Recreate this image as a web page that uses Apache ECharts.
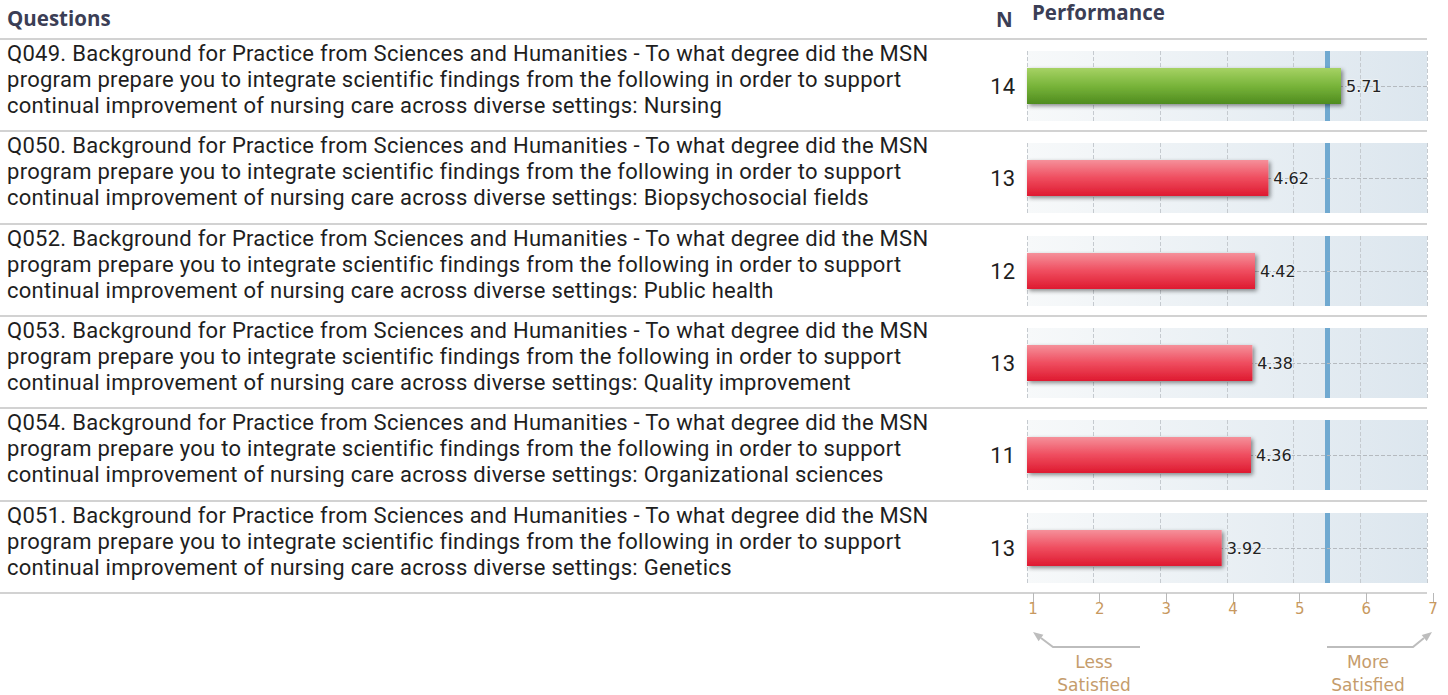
<!DOCTYPE html>
<html>
<head>
<meta charset="utf-8">
<title>Performance</title>
<script src="https://cdn.jsdelivr.net/npm/echarts@6/dist/echarts.min.js"></script>
<style>
    body {
        margin: 0;
        width: 1448px;
        height: 695px;
        position: relative;
        overflow: hidden;
        background: #fff;
        font-family: 'Open Sans', 'Noto Sans', sans-serif;
    }
    .head {
        position: absolute;
        font-weight: bold;
        font-size: 20.5px;
        color: #3b3e55;
    }
    .sep {
        position: absolute;
        left: 0;
        width: 1427px;
        height: 2px;
        background: #d2d2d2;
    }
    .q {
        position: absolute;
        left: 7px;
        font-family: Roboto, sans-serif;
        font-size: 22px;
        line-height: 26px;
        letter-spacing: 0.28px;
        color: #1e1e1e;
        white-space: nowrap;
    }
    .n {
        position: absolute;
        left: 955px;
        width: 60px;
        text-align: right;
        font-family: Roboto, sans-serif;
        font-size: 22px;
        line-height: 26px;
        color: #1e1e1e;
    }
    #perf {
        position: absolute;
        left: 1000px;
        top: 0;
        width: 448px;
        height: 695px;
    }
</style>
</head>
<body>
<div class="head" style="left: 7px; top: 4px">Questions</div>
<div class="head" style="left: 996px; top: 5px">N</div>
<div class="head" style="left: 1032px; top: -2px">Performance</div>
<div id="rows"></div>
<div id="perf"></div>

<script>
// data
const questionIds = ['Q049', 'Q050', 'Q052', 'Q053', 'Q054', 'Q051'];
const topics = ['Nursing', 'Biopsychosocial fields', 'Public health', 'Quality improvement', 'Organizational sciences', 'Genetics'];
const counts = [14, 13, 12, 13, 11, 13];
const scores = [5.71, 4.62, 4.42, 4.38, 4.36, 3.92];
const benchmark = 5.5;
const scaleMin = 1;
const scaleMax = 7;
const lowLabel = 'Less\nSatisfied';
const highLabel = 'More\nSatisfied';

const line1 = '. Background for Practice from Sciences and Humanities - To what degree did the MSN';
const line2 = 'program prepare you to integrate scientific findings from the following in order to support';
const line3 = 'continual improvement of nursing care across diverse settings: ';

const ROW_TOP = 39;
const ROW_H = 92.33;

// table part (questions + N)
let rows = document.getElementById('rows');
let html = '';
for (let i = 0; i <= questionIds.length; i++) {
    let y = Math.round(ROW_TOP + i * ROW_H);
    html += '<div class="sep" style="top:' + (y - 1) + 'px"></div>';
    if (i === questionIds.length) break;
    html += '<div class="q" style="top:' + (y + 2) + 'px">' +
        questionIds[i] + line1 + '<br>' + line2 + '<br>' + line3 + topics[i] + '</div>';
    html += '<div class="n" style="top:' + (y + 35) + 'px">' + counts[i] + '</div>';
}
rows.innerHTML = html;

// performance bars
let myChart = echarts.init(document.getElementById('perf'), null, { renderer: 'svg' });

const panelBg = new echarts.graphic.LinearGradient(0, 0, 1, 0, [
    { offset: 0, color: '#f7f9fa' },
    { offset: 1, color: '#dce6ee' }
]);
const greenBar = new echarts.graphic.LinearGradient(0, 0, 0, 1, [
    { offset: 0, color: '#a6d264' },
    { offset: 0.5, color: '#78b43a' },
    { offset: 1, color: '#4f8c1f' }
]);
const redBar = new echarts.graphic.LinearGradient(0, 0, 0, 1, [
    { offset: 0, color: '#f5909a' },
    { offset: 0.5, color: '#ef4d5f' },
    { offset: 1, color: '#de1a30' }
]);

let grid = [];
let xAxis = [];
let yAxis = [];
let series = [];

scores.forEach((v, i) => {
    grid.push({
        left: 27,
        width: 400,
        top: Math.round(ROW_TOP + i * ROW_H) + 12,
        height: 70,
        show: true,
        borderWidth: 0,
        backgroundColor: panelBg
    });
    xAxis.push({
        gridIndex: i,
        type: 'value',
        min: scaleMin,
        max: scaleMax,
        interval: 1,
        startValue: scaleMin,
        axisLine: { show: false },
        axisTick: { show: false },
        axisLabel: { show: false },
        splitLine: {
            show: true,
            lineStyle: { color: '#c5cacf', type: 'dashed', width: 1 }
        }
    });
    yAxis.push({
        gridIndex: i,
        type: 'category',
        data: [questionIds[i]],
        show: false
    });
    series.push({
        type: 'bar',
        xAxisIndex: i,
        yAxisIndex: i,
        barWidth: 36,
        clip: true,
        data: [{ value: v, itemStyle: { color: v >= benchmark ? greenBar : redBar } }],
        itemStyle: {
            shadowBlur: 4,
            shadowColor: 'rgba(0,0,0,0.45)',
            shadowOffsetX: 2,
            shadowOffsetY: 2
        },
        label: {
            show: true,
            position: 'right',
            distance: 5,
            formatter: p => p.value.toFixed(2),
            fontFamily: 'DejaVu Sans',
            fontSize: 16,
            color: '#222',
            textBorderColor: '#ecf1f4',
            textBorderWidth: 2
        },
        markLine: {
            silent: true,
            symbol: 'none',
            z: 1,
            label: { show: false },
            data: [
                { xAxis: benchmark, lineStyle: { color: '#70a9d0', width: 5, type: 'solid' } },
                { yAxis: 0, lineStyle: { color: '#b5babf', width: 1, type: 'dashed' } }
            ]
        }
    });
});

// bottom scale
let ai = scores.length;
grid.push({ left: 33, width: 400, top: 592, height: 1 });
xAxis.push({
    gridIndex: ai,
    type: 'value',
    min: scaleMin,
    max: scaleMax,
    interval: 1,
    axisLine: { show: false },
    axisTick: { show: true, length: 10, lineStyle: { color: '#b8b8b8' } },
    axisLabel: { color: '#c8995f', fontSize: 15, fontFamily: 'DejaVu Sans', margin: 8 },
    splitLine: { show: false }
});
yAxis.push({ gridIndex: ai, type: 'value', show: false });

const arrowColor = '#bdbdbd';
const noteStyle = {
    fontFamily: 'DejaVu Sans',
    fontSize: 17,
    lineHeight: 23,
    fill: '#c59c6c',
    align: 'center',
    verticalAlign: 'middle'
};

let option = {
    animation: false,
    grid: grid,
    xAxis: xAxis,
    yAxis: yAxis,
    series: series,
    graphic: [
        {
            type: 'polyline',
            shape: { points: [[140, 647], [53, 647], [41, 638]] },
            style: { stroke: arrowColor, lineWidth: 2, fill: null }
        },
        {
            type: 'polygon',
            shape: { points: [[33, 632], [43.4, 634.8], [38.6, 641.2]] },
            style: { fill: arrowColor }
        },
        {
            type: 'polyline',
            shape: { points: [[327, 647], [413, 647], [424, 638]] },
            style: { stroke: arrowColor, lineWidth: 2, fill: null }
        },
        {
            type: 'polygon',
            shape: { points: [[432, 632], [426.7, 641.3], [421.7, 635.1]] },
            style: { fill: arrowColor }
        },
        { type: 'text', x: 94, y: 673, style: Object.assign({ text: lowLabel }, noteStyle) },
        { type: 'text', x: 368, y: 673, style: Object.assign({ text: highLabel }, noteStyle) }
    ]
};
myChart.setOption(option);
</script>
</body>
</html>
